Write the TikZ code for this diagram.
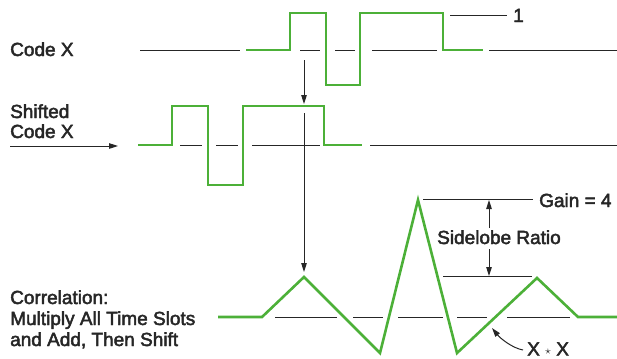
\documentclass[tikz,border=0pt]{standalone}
\usepackage{fontspec}
\setmainfont{Liberation Sans}
\newfontfamily\lblfont[FakeBold=2.5]{Liberation Sans}
\usetikzlibrary{arrows.meta}
\definecolor{wave}{RGB}{76,176,56}
\definecolor{ink}{RGB}{38,38,38}
\begin{document}
\begin{tikzpicture}[x=1bp,y=-1bp,
  wavel/.style={draw=wave,line width=2.6bp,line join=miter},
  axisl/.style={draw=ink,line width=1bp},
  arr/.style={draw=ink,line width=1bp,-{Triangle[length=9bp,width=5.5bp]}},
  lbl/.style={text=ink,font=\lblfont\fontsize{19bp}{21bp}\selectfont,inner sep=0pt,anchor=base west}]
\useasboundingbox (0,0) rectangle (617,358);

% ---- Code X row ----
\node[lbl] (lcode) at (10,56) {Code X};
\foreach \a/\b in {140/240,300/320,335/355,372/437,489/617}
  \draw[axisl] (\a,50) -- (\b,50);
\draw[wavel] (246,50) -- (290,50) -- (290,13) -- (326,13) -- (326,85) -- (360,85)
  -- (360,13) -- (443,13) -- (443,50) -- (483,50);
\coordinate (oneS) at (450,15);
\node[lbl] (one) at (513,22) {1};
\draw[axisl] (oneS) -- ([xshift=-6bp]one.west |- oneS);

% ---- Shifted row ----
\node[lbl] (lsh1) at (10,118) {Shifted};
\node[lbl] (lsh2) at (10,138) {Code X};
\coordinate (inS) at (10,146);
\coordinate (inE) at (118,146);
\draw[arr] (inS) -- (inE);
\foreach \a/\b in {180/202,216/238,252/320,370/617}
  \draw[axisl] (\a,145) -- (\b,145);
\draw[wavel] (138,145) -- (172,145) -- (172,106) -- (208,106) -- (208,185) -- (243,185)
  -- (243,106) -- (324,106) -- (324,145) -- (362,145);

% ---- vertical arrows ----
\coordinate (v1s) at (304,60);
\coordinate (v1e) at (304,104);
\coordinate (v2s) at (304,113);
\coordinate (v2e) at (304,272);
\draw[arr] (v1s) -- (v1e);
\draw[arr] (v2s) -- (v2e);

% ---- Correlation row ----
\node[lbl] (lc1) at (10,304) {Correlation:};
\node[lbl] (lc2) at (10,325) {Multiply All Time Slots};
\node[lbl] (lc3) at (10,346) {and Add, Then Shift};
\foreach \a/\b in {275/337,353/383,398/443,457/487,507/570}
  \draw[axisl] (\a,317) -- (\b,317);
\draw[wavel] (218,317) -- (262,317) -- (304,277) -- (380,353) -- (418,200) -- (457,353)
  -- (537,278) -- (578,317) -- (617,317);

% ---- Gain / sidelobe ----
\node[lbl] (gain) at (539,207) {Gain = 4};
\coordinate (gS) at (423,199);
\draw[axisl] (gS) -- ([xshift=-6bp]gain.west |- gS);
\coordinate (sS) at (443,276);
\coordinate (sE) at (532,276);
\draw[axisl] (sS) -- (sE);
\node[lbl] (side) at (437,244) {Sidelobe Ratio};
\coordinate (uS) at (489,228);
\coordinate (uE) at (489,200);
\coordinate (dS) at (489,249);
\coordinate (dE) at (489,276);
\draw[arr] (uS) -- (uE);
\draw[arr] (dS) -- (dE);

% ---- X * X ----
\node[lbl] (xx) at (527,355.5) {X {\fontsize{13bp}{13bp}\selectfont\raisebox{1.5bp}{$\star$}} X};
\coordinate (xxA) at (523,350);
\coordinate (xxT) at (492,328);
\draw[arr] (xxA) .. controls (512,348) and (500,338) .. (xxT);
\end{tikzpicture}
\end{document}
